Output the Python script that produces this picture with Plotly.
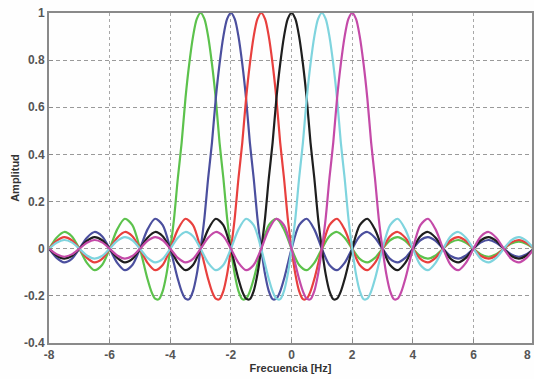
import plotly.graph_objects as go

# Centres of each pulse (Hz) and colours
centers = [-3, -2, -1, 0, 1, 2]
colors = ["#5cc24c", "#4b4f9e", "#e8403e", "#1e1e1e", "#7fd4de", "#c44aa8"]

# Pulse shape (one side; symmetric about its centre)
kernel_offsets = [0, 0.125, 0.25, 0.375, 0.5, 0.625, 0.75, 0.875, 1,
                  1.125, 1.25, 1.375, 1.5, 1.625, 1.75, 1.875, 2,
                  2.25, 2.5, 2.75, 3,
                  3.25, 3.5, 3.75, 4, 4.25, 4.5, 4.75, 5, 5.25, 5.5, 5.75, 6,
                  6.25, 6.5, 6.75, 7, 7.25, 7.5, 7.75, 8, 8.25, 8.5, 8.75, 9,
                  9.25, 9.5, 9.75, 10, 10.25, 10.5, 10.75, 11, 11.25, 11.5, 11.75, 12]
kernel_values = [1.0, 0.975, 0.90, 0.784, 0.637, 0.45, 0.30, 0.129, 0.0,
                 -0.108, -0.18, -0.214, -0.212, -0.181, -0.129, -0.065, 0.0,
                 0.10, 0.127, 0.082, 0.0, -0.069, -0.091, -0.060, 0.0,
                 0.053, 0.071, 0.047, 0.0, -0.043, -0.058, -0.039, 0.0,
                 0.036, 0.049, 0.033, 0.0, -0.031, -0.042, -0.029, 0.0,
                 0.027, 0.037, 0.025, 0.0, -0.024, -0.034, -0.023, 0.0,
                 0.022, 0.030, 0.020, 0.0, -0.019, -0.028, -0.018, 0.0]

x_ticks = [-8, -6, -4, -2, 0, 2, 4, 6, 8]
y_ticks = [-0.4, -0.2, 0, 0.2, 0.4, 0.6, 0.8, 1]

full_off = [-o for o in kernel_offsets[:0:-1]] + kernel_offsets
full_val = kernel_values[:0:-1] + kernel_values

fig = go.Figure()
for c, col in zip(centers, colors):
    fig.add_trace(go.Scatter(
        x=[c + o for o in full_off], y=full_val, mode="lines",
        line=dict(color=col, width=2.2, shape="spline", smoothing=0.8),
        showlegend=False, hoverinfo="skip"))

tick_font = dict(family="Liberation Sans, Arial", size=12, color="#555555", weight="bold")
title_font = dict(family="Liberation Sans, Arial", size=11, color="#333333")
fig.update_layout(
    width=534, height=379,
    margin=dict(l=49, r=0, t=13, b=36),
    paper_bgcolor="#fefefe", plot_bgcolor="#fefefe",
    xaxis=dict(range=[-8, 7.93], tickvals=x_ticks[:-1], ticktext=[str(v) for v in x_ticks[:-1]],
               showgrid=True, gridcolor="#a8a8a8", griddash="dot", gridwidth=1,
               showline=True, linecolor="#8a8a8a", linewidth=2, mirror=True,
               ticks="inside", ticklen=4, tickcolor="#8a8a8a",
               zeroline=False, tickfont=tick_font,
               title=dict(text="<b>Frecuencia [Hz]</b>", font=title_font, standoff=2)),
    yaxis=dict(range=[-0.4, 1], tickvals=y_ticks, ticktext=["-0.4", "-0.2", "0", "0.2", "0.4", "0.6", "0.8", "1"],
               showgrid=True, gridcolor="#9a9a9a", griddash="4px,3px", gridwidth=1,
               showline=True, linecolor="#8a8a8a", linewidth=2, mirror=True,
               ticks="inside", ticklen=4, tickcolor="#8a8a8a",
               zeroline=False, tickfont=tick_font,
               title=dict(text="<b>Amplitud</b>", font=title_font, standoff=2)),
)
fig.add_annotation(x=1.0, y=0, xref="paper", yref="paper", text="<b>%d</b>" % x_ticks[-1], showarrow=False,
                   xanchor="right", yanchor="top", yshift=-3, xshift=1,
                   font=dict(family="Liberation Sans, Arial", size=12, color="#555555"))
fig.write_html("out.html")
